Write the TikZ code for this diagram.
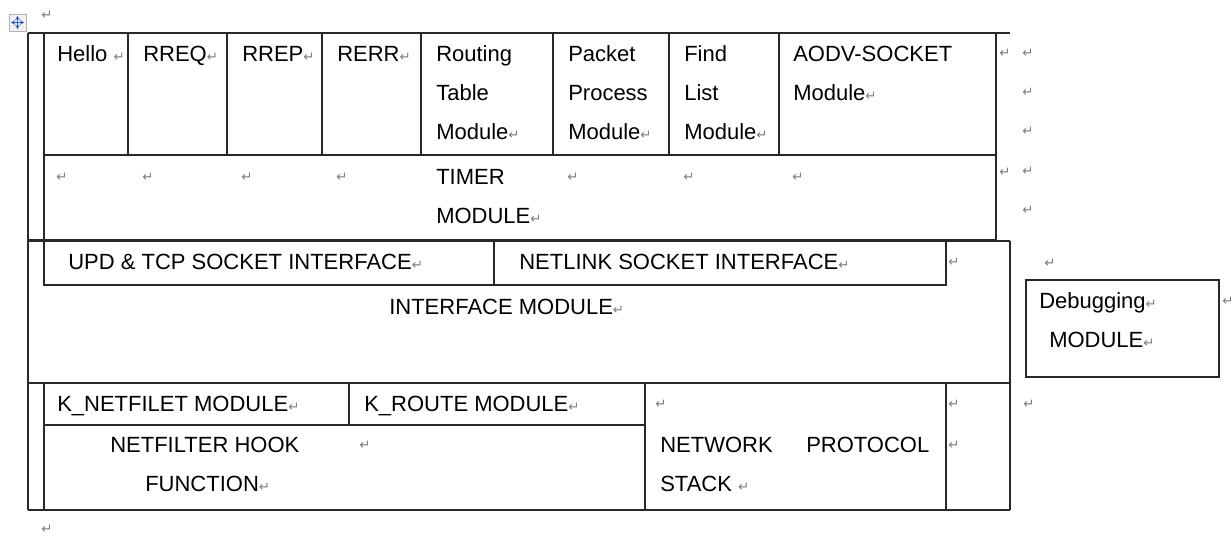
\documentclass[tikz,border=0pt]{standalone}
\usepackage{fontspec}
\setmainfont{Liberation Sans}
\newfontfamily\markfont{DejaVu Sans}
\usepackage{xcolor}
\definecolor{markgray}{RGB}{125,125,125}
\definecolor{rulegray}{RGB}{40,40,40}
\definecolor{handleblue}{RGB}{40,95,200}
\newcommand{\retmark}{{\color{markgray}\markfont\fontsize{10}{10}\selectfont ↵}}
\usetikzlibrary{arrows.meta}

\begin{document}
\begin{tikzpicture}[x=0.75pt, y=-0.75pt,
    cell/.style={rulegray, line width=0.9pt},
    heavy/.style={rulegray, line width=1.7pt},
    txt/.style={anchor=base west, inner sep=0pt, font=\fontsize{16.5}{16.5}\selectfont},
    pmark/.style={anchor=base west, inner sep=0pt, font=\markfont\fontsize{10}{10}\selectfont, text=markgray}]
    \useasboundingbox (0,0) rectangle (1232,537);

    % Table handle
    \draw[markgray!60, fill=black!5, line width=0.6pt] (9,14) rectangle (26,31);
    \draw[handleblue, line width=0.9pt, {Stealth[length=3pt,width=3.5pt]}-{Stealth[length=3pt,width=3.5pt]}] (11,22.5) -- (24,22.5);
    \draw[handleblue, line width=0.9pt, {Stealth[length=3pt,width=3.5pt]}-{Stealth[length=3pt,width=3.5pt]}] (17.5,16) -- (17.5,29);
    \node[pmark] (topmark) at (41,19) {↵};

    % Outer frame
    \draw[cell] (28,33) -- (1010,33);
    \draw[cell] (28,33) -- (28,510);
    \draw[cell] (44,33) -- (44,240);
    \draw[cell] (44,383) -- (44,510);
    \draw[cell] (1010,241) -- (1010,510);
    \draw[cell] (28,510) -- (1010,510);
    \draw[heavy] (44,510) -- (946,510);

    % Upper block: AODV modules and timer
    \draw[cell] (996,33) -- (996,240);
    \draw[cell] (44,155) -- (996,155);
    \draw[heavy] (28,240) -- (996,240);
    \foreach \x in {128,227,322,421,553,669,779}
        \draw[cell] (\x,33) -- (\x,155);

    \node[txt] (hello) at (57,61) {Hello \retmark};
    \node[txt] (rreq) at (143,61) {RREQ\retmark};
    \node[txt] (rrep) at (242,61) {RREP\retmark};
    \node[txt] (rerr) at (337,61) {RERR\retmark};
    \node[txt] (routing) at (436,61) {Routing};
    \node[txt] (routing2) at (436,100) {Table};
    \node[txt] (routing3) at (436,139) {Module\retmark};
    \node[txt] (packet) at (568,61) {Packet};
    \node[txt] (packet2) at (568,100) {Process};
    \node[txt] (packet3) at (568,139) {Module\retmark};
    \node[txt] (find) at (684,61) {Find};
    \node[txt] (find2) at (684,100) {List};
    \node[txt] (find3) at (684,139) {Module\retmark};
    \node[txt] (aodv) at (793,61) {AODV-SOCKET};
    \node[txt] (aodv2) at (793,100) {Module\retmark};

    \node[txt] (timer) at (436,184) {TIMER};
    \node[txt] (timer2) at (436,223) {MODULE\retmark};
    \foreach \x [count=\i] in {56,142,241,336,567,683,792}
        \node[pmark] (tm\i) at (\x,181) {↵};
    \node[pmark] (rm1) at (999,57) {↵};
    \node[pmark] (rm2) at (999,176) {↵};
    \foreach \y [count=\i] in {57,96,135,175,214}
        \node[pmark] (om\i) at (1022,\y) {↵};

    % Interface block
    \draw[cell] (28,241) -- (1010,241);
    \draw[cell] (44,241) rectangle (494,285);
    \draw[cell] (494,241) rectangle (946,285);
    \draw[cell] (28,383) -- (1010,383);
    \node[txt] (udp) at (68,269) {UPD \& TCP SOCKET INTERFACE\retmark};
    \node[txt] (netlink) at (519,269) {NETLINK SOCKET INTERFACE\retmark};
    \node[pmark] (im1) at (948,266) {↵};
    \node[txt] (iface) at (389,314) {INTERFACE MODULE\retmark};

    % Debugging module
    \draw[cell] (1026,280) rectangle (1219,377);
    \node[pmark] (dm1) at (1044,267) {↵};
    \node[txt] (debug) at (1039,308) {Debugging\retmark};
    \node[txt] (debug2) at (1049,347) {MODULE\retmark};
    \node[pmark] (dm2) at (1222,305) {↵};

    % Kernel block
    \draw[cell] (44,425) -- (645,425);
    \draw[cell] (349,383) -- (349,425);
    \draw[cell] (645,383) -- (645,510);
    \draw[cell] (946,383) -- (946,510);
    \node[txt] (knet) at (57,411) {K\_NETFILET MODULE\retmark};
    \node[txt] (kroute) at (364,411) {K\_ROUTE MODULE\retmark};
    \node[pmark] (km1) at (655,408) {↵};
    \node[pmark] (km2) at (948,408) {↵};
    \node[pmark] (km3) at (1023,408) {↵};
    \node[txt] (hook) at (110,452) {NETFILTER HOOK};
    \node[pmark] (km4) at (359,449) {↵};
    \node[txt] (hook2) at (145,491) {FUNCTION\retmark};
    \node[txt] (stack) at (660,452) {NETWORK};
    \node[txt] (stack2) at (806,452) {PROTOCOL};
    \node[pmark] (km5) at (948,449) {↵};
    \node[txt] (stack3) at (660,491) {STACK \retmark};

    \node[pmark] (endmark) at (41,533) {↵};
\end{tikzpicture}
\end{document}
